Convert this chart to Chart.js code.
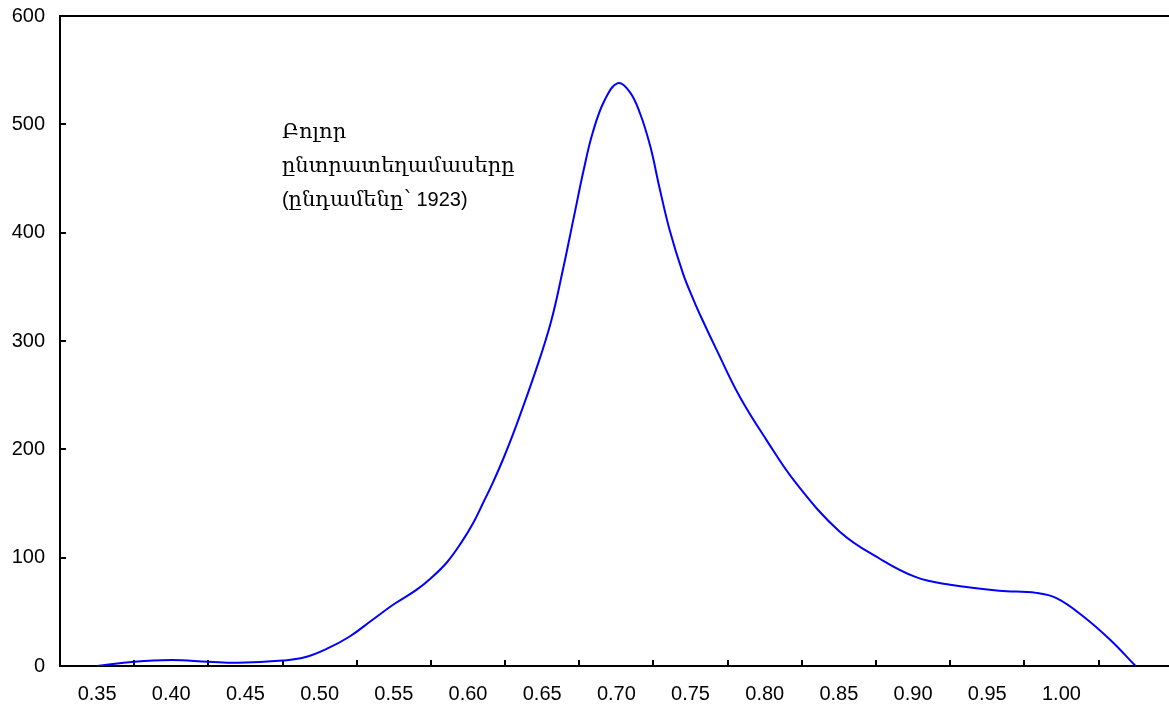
<!DOCTYPE html>
<html>
<head>
<meta charset="utf-8">
<script src="https://cdn.jsdelivr.net/npm/chart.js@4"></script>
<style>
html,body{margin:0;padding:0;background:#fff;}
#wrap{width:1169px;height:711px;position:relative;}
</style>
</head>
<body>
<div id="wrap"><canvas id="c"></canvas></div>
<script>
// Share of votes (x) and density of polling stations (y)
const shareValues = [0.35,0.375,0.40,0.425,0.445,0.475,0.49,0.505,0.52,0.535,0.55,0.565,0.575,0.586,0.596,0.6035,0.61,0.617,0.624,0.632,0.646,0.656,0.664,0.671,0.678,0.684,0.692,0.701,0.709,0.716,0.723,0.729,0.736,0.745,0.752,0.7575,0.7675,0.783,0.801,0.821,0.8506,0.8776,0.902,0.925,0.958,0.983,0.997,1.015,1.033,1.05];
const densityValues = [0,4,5.5,4,3,5,8,16,27,42,57,70,81,96,115,132,150,170,192,220,274,318,366,412,458,492,522,538,530,510,479,442,402,362,338,321,292,249,209,169,124,99,82,75,69.5,67.5,62.5,45.5,24,0];

const xTickPositions = [0.375,0.425,0.475,0.525,0.575,0.625,0.675,0.725,0.775,0.825,0.875,0.925,0.975,1.025];
const xTickLabels = ['0.35','0.40','0.45','0.50','0.55','0.60','0.65','0.70','0.75','0.80','0.85','0.90','0.95','1.00'];
const yTickValues = [0,100,200,300,400,500,600];

const annotationLines = ['Բոլոր','ընտրատեղամասերը','(ընդամենը՝ 1923)'];
const annotationAnchor = {x: 0.4746, y: 487};

const X_MIN = 0.325, X_MAX = 1.0725;
const PLOT_W = 1169 - 60;
const LABEL_OFFSET = -(0.025 / (X_MAX - X_MIN)) * PLOT_W;

const points = shareValues.map((x, i) => ({x: x, y: densityValues[i]}));

const ARM_FONT = '21px "DejaVu Serif", serif';
const LAT_FONT = '20px "Liberation Sans", Arial, sans-serif';

function drawMixed(ctx, text, x, y) {
  const runs = text.match(/[\u0530-\u058F]+|[^\u0530-\u058F]+/g) || [];
  let cx = x;
  runs.forEach(r => {
    ctx.font = /[\u0530-\u058F]/.test(r) ? ARM_FONT : LAT_FONT;
    ctx.fillText(r, cx, y);
    cx += ctx.measureText(r).width;
  });
}

const frameAndTextPlugin = {
  id: 'frameAndText',
  afterDraw(chart) {
    const ctx = chart.ctx;
    const a = chart.chartArea;
    const xs = chart.scales.x, ys = chart.scales.y;
    ctx.save();
    ctx.strokeStyle = '#000';
    ctx.lineWidth = 2;
    ctx.beginPath();
    ctx.moveTo(a.left - 1, a.top);
    ctx.lineTo(a.right, a.top);
    ctx.stroke();
    const px = xs.getPixelForValue(annotationAnchor.x);
    const py = ys.getPixelForValue(annotationAnchor.y);
    ctx.fillStyle = '#000';
    ctx.textAlign = 'left';
    ctx.textBaseline = 'alphabetic';
    annotationLines.forEach((t, i) => drawMixed(ctx, t, px, py + i * 34));
    ctx.restore();
  }
};

new Chart(document.getElementById('c'), {
  type: 'line',
  data: {
    datasets: [{
      data: points,
      borderColor: '#0000ff',
      borderWidth: 2,
      pointRadius: 0,
      fill: false,
      tension: 0.4
    }]
  },
  options: {
    responsive: true,
    maintainAspectRatio: false,
    animation: false,
    devicePixelRatio: 1,
    layout: {padding: {top: 16, left: 0, right: 0, bottom: 0}},
    plugins: {legend: {display: false}, tooltip: {enabled: false}},
    scales: {
      x: {
        type: 'linear',
        position: 'bottom',
        min: X_MIN,
        max: X_MAX,
        afterBuildTicks: s => { s.ticks = xTickPositions.map(v => ({value: v})); },
        afterFit: s => { s.height = 45; s.paddingLeft = 0; s.paddingRight = 0; },
        ticks: {
          autoSkip: false,
          maxRotation: 0,
          minRotation: 0,
          labelOffset: LABEL_OFFSET,
          padding: 22,
          color: '#000',
          font: {family: '"Liberation Sans", Arial, sans-serif', size: 20},
          callback: (v, i) => xTickLabels[i]
        },
        grid: {drawOnChartArea: false, drawTicks: true, tickLength: -6, color: '#000', lineWidth: 2},
        border: {display: true, color: '#000', width: 2}
      },
      y: {
        type: 'linear',
        min: 0,
        max: 600,
        afterBuildTicks: s => { s.ticks = yTickValues.map(v => ({value: v})); },
        afterFit: s => { s.width = 60; s.paddingTop = 0; s.paddingBottom = 0; },
        ticks: {
          padding: 21,
          color: '#000',
          font: {family: '"Liberation Sans", Arial, sans-serif', size: 20}
        },
        grid: {drawOnChartArea: false, drawTicks: true, tickLength: -6, color: '#000', lineWidth: 2},
        border: {display: true, color: '#000', width: 2}
      }
    }
  },
  plugins: [frameAndTextPlugin]
});
</script>
</body>
</html>
